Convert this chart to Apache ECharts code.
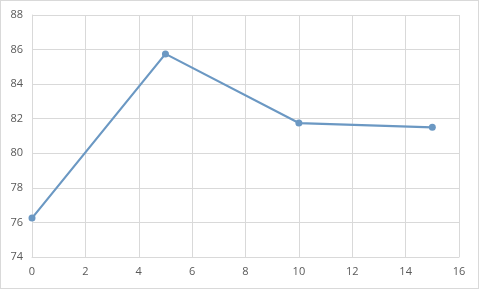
<!DOCTYPE html>
<html><head><meta charset="utf-8">
<script src="https://cdn.jsdelivr.net/npm/echarts@6/dist/echarts.min.js"></script>
<style>
html,body{margin:0;padding:0;background:#fff;}
#c{position:absolute;left:0;top:0;width:477px;height:287px;border:1px solid #d9d9d9;}
</style></head>
<body><div id="c"></div>
<script>
const xValues = [0, 5, 10, 15];
const yValues = [76.25, 85.75, 81.75, 81.5];

const chart = echarts.init(document.getElementById('c'));
chart.setOption({
  animation: false,
  grid: {left: 31, right: 19, top: 14, bottom: 31},
  xAxis: {
    type: 'value', min: 0, max: 16, interval: 2,
    axisLine: {show: true, lineStyle: {color: '#d9d9d9'}},
    axisTick: {show: false},
    splitLine: {show: true, lineStyle: {color: '#d9d9d9'}},
    axisLabel: {color: '#595959', fontSize: 11, fontFamily: 'Open Sans', margin: 9}
  },
  yAxis: {
    type: 'value', min: 74, max: 88, interval: 2,
    axisLine: {show: true, lineStyle: {color: '#d9d9d9'}},
    axisTick: {show: false},
    splitLine: {show: true, lineStyle: {color: '#d9d9d9'}},
    axisLabel: {color: '#595959', fontSize: 11, fontFamily: 'Open Sans', margin: 9}
  },
  series: [{
    type: 'line',
    data: xValues.map((x, i) => [x, yValues[i]]),
    symbol: 'circle', symbolSize: 7,
    lineStyle: {color: '#6b98c3', width: 2.2},
    itemStyle: {color: '#6b98c3'}
  }]
});
</script></body></html>
